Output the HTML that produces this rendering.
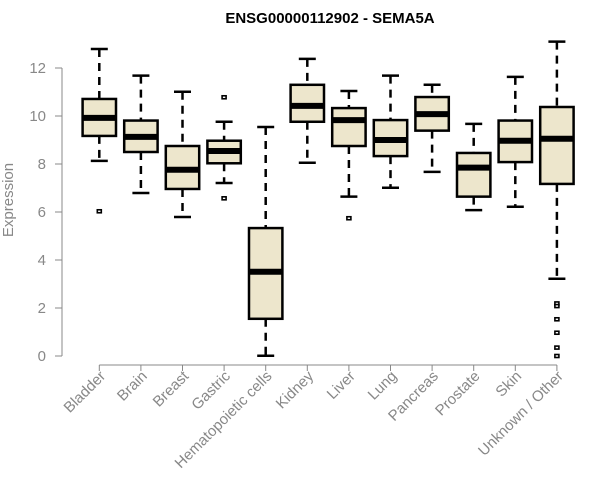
<!DOCTYPE html>
<html><head><meta charset="utf-8"><style>
body{margin:0;background:#fff}
svg{display:block;font-family:"Liberation Sans",Arial,sans-serif}
</style></head><body>
<svg id="chart" width="600" height="500" viewBox="0 0 600 500">
<text x="330" y="23" text-anchor="middle" font-weight="bold" font-size="15" fill="#000">ENSG00000112902 - SEMA5A</text>
<text transform="translate(13,200) rotate(-90)" text-anchor="middle" font-size="15" fill="#888">Expression</text>
<g id="axes"></g><g id="boxes"></g>
</svg>
<script>
const categories=["Bladder","Brain","Breast","Gastric","Hematopoietic cells","Kidney","Liver","Lung","Pancreas","Prostate","Skin","Unknown / Other"];
const whiskerLow=[8.13,6.79,5.79,7.21,0.01,8.05,6.64,7.01,7.67,6.08,6.22,3.22];
const q1=[9.17,8.5,6.96,8.03,1.55,9.76,8.75,8.33,9.39,6.64,8.08,7.17];
const medians=[9.92,9.13,7.76,8.54,3.51,10.42,9.83,9.0,10.08,7.85,8.97,9.05];
const q3=[10.71,9.81,8.75,8.97,5.33,11.3,10.33,9.83,10.79,8.46,9.81,10.375];
const whiskerHigh=[12.79,11.68,11.01,9.76,9.54,12.38,11.04,11.68,11.3,9.67,11.63,13.1];
const outliers=[[6.03],[],[],[10.78,6.57],[],[],[5.74],[],[],[],[],[2.19,2.08,1.53,0.97,0.35,0.0]];
const yTicks=[0,2,4,6,8,10,12];
const NS="http://www.w3.org/2000/svg";
const y=v=>356-v*24;
const x=i=>99.3+i*41.6;
function mk(t,a,p){const e=document.createElementNS(NS,t);for(const k in a)e.setAttribute(k,a[k]);p.appendChild(e);return e;}
const ax=document.getElementById('axes'),bx=document.getElementById('boxes');
const yl=mk('line',{x1:62,x2:62,y1:y(0),y2:y(12),stroke:'#888'},ax);


yTicks.forEach(t=>{
 const l=mk('line',{x1:55,x2:62,y1:y(t),y2:y(t),stroke:'#888'},ax);
 
 
 const tx=mk('text',{x:46,y:y(t)+5,'text-anchor':'end','font-size':15,fill:'#888'},ax);
 tx.textContent=t;
 
 
});
const xl=mk('line',{x1:x(0),x2:x(categories.length-1),y1:365,y2:365,stroke:'#888'},ax);


categories.forEach((c,i)=>{
 const cx=x(i);
 const tk=mk('line',{x1:cx,x2:cx,y1:365,y2:371,stroke:'#888'},ax);
 
 
 const tx=mk('text',{transform:`translate(${cx+7},${377}) rotate(-45)`,'text-anchor':'end','font-size':15,fill:'#888'},ax);
 tx.textContent=c;
 
 
 const g=mk('g',{},bx);
 
 
 const hw=16.7,cw=8.5;
 mk('line',{x1:cx,x2:cx,y1:y(whiskerHigh[i]),y2:y(q3[i]),stroke:'#000','stroke-width':2.5,'stroke-dasharray':'8,6'},g);
 mk('line',{x1:cx,x2:cx,y1:y(q1[i]),y2:y(whiskerLow[i]),stroke:'#000','stroke-width':2.5,'stroke-dasharray':'8,6'},g);
 mk('line',{x1:cx-cw,x2:cx+cw,y1:y(whiskerHigh[i]),y2:y(whiskerHigh[i]),stroke:'#000','stroke-width':2.5},g);
 mk('line',{x1:cx-cw,x2:cx+cw,y1:y(whiskerLow[i]),y2:y(whiskerLow[i]),stroke:'#000','stroke-width':2.5},g);
 mk('rect',{x:cx-hw,y:y(q3[i]),width:hw*2,height:y(q1[i])-y(q3[i]),fill:'#ede6cc',stroke:'#000','stroke-width':2.5},g);
 mk('line',{x1:cx-hw,x2:cx+hw,y1:y(medians[i]),y2:y(medians[i]),stroke:'#000','stroke-width':6},g);
 outliers[i].forEach(o=>{
  const p=mk('rect',{x:cx-2,y:y(o)-1.5,width:4,height:3,fill:'#fff',stroke:'#000','stroke-width':1.6},g);
  
  
 });
});
</script>
</body></html>
